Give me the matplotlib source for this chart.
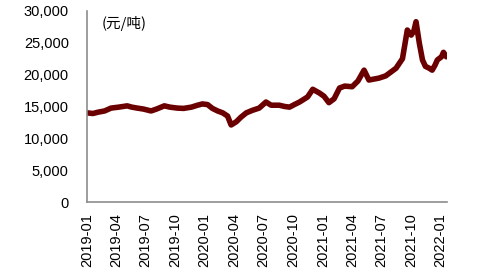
import matplotlib
matplotlib.use("Agg")
import matplotlib.pyplot as plt
import matplotlib.dates as mdates
import pandas as pd

# prix (元/吨)
dates = ["2019-01-02", "2019-01-20", "2019-02-04", "2019-02-25", "2019-03-17", "2019-04-10",
         "2019-05-06", "2019-05-20", "2019-06-06", "2019-06-25", "2019-07-19", "2019-08-05",
         "2019-08-29", "2019-09-15", "2019-10-08", "2019-10-28", "2019-11-21", "2019-12-10",
         "2019-12-25", "2020-01-10", "2020-01-25", "2020-02-10", "2020-02-26", "2020-03-12",
         "2020-03-23", "2020-04-08", "2020-04-22", "2020-05-09", "2020-05-28", "2020-06-18",
         "2020-07-09", "2020-07-25", "2020-08-19", "2020-09-05", "2020-09-20", "2020-10-05",
         "2020-10-21", "2020-11-15", "2020-12-01", "2020-12-22", "2021-01-05", "2021-01-20",
         "2021-02-05", "2021-02-22", "2021-03-10", "2021-04-02", "2021-04-20", "2021-05-09",
         "2021-05-24", "2021-06-24", "2021-07-15", "2021-08-16", "2021-09-05", "2021-09-20",
         "2021-10-02", "2021-10-10", "2021-10-17", "2021-10-27", "2021-11-06", "2021-11-15",
         "2021-11-27", "2021-12-06", "2021-12-15", "2021-12-22", "2022-01-04", "2022-01-10",
         "2022-01-19"]
prix = [14000, 13900, 14100, 14300, 14750, 14900,
        15100, 14900, 14750, 14600, 14300, 14600,
        15100, 14900, 14750, 14700, 14900, 15200,
        15400, 15300, 14700, 14300, 14000, 13500,
        12100, 12600, 13300, 14000, 14400, 14750,
        15700, 15200, 15200, 15000, 14900, 15300,
        15700, 16500, 17700, 17100, 16600, 15600,
        16200, 17900, 18200, 18100, 19000, 20700,
        19150, 19450, 19800, 21000, 22500, 27000,
        26200, 26800, 28300, 25000, 22300, 21300,
        21000, 20700, 21500, 22300, 22800, 23500,
        22800]

x = pd.to_datetime(dates)

fig = plt.figure(figsize=(4.88, 2.72), dpi=100)
ax = fig.add_axes([0.178, 0.257, 0.738, 0.703])

ax.plot(x, prix, color="#6B0000", linewidth=4, solid_joinstyle="round", solid_capstyle="round")

ax.set_ylim(0, 30000)
ax.set_yticks(range(0, 30001, 5000))
ax.set_yticklabels([f"{v:,}" for v in range(0, 30001, 5000)], family="Liberation Sans", fontsize=10.5)

ax.set_xlim(pd.Timestamp("2019-01-01"), pd.Timestamp("2022-01-21"))
ax.xaxis.set_major_locator(mdates.MonthLocator(bymonth=[1, 4, 7, 10]))
ax.xaxis.set_major_formatter(mdates.DateFormatter("%Y-%m"))
for lab in ax.get_xticklabels():
    lab.set_rotation(90)
    lab.set_family("Liberation Sans")
    lab.set_fontsize(10.5)

ax.tick_params(axis="y", length=0, pad=13)
ax.tick_params(axis="x", length=0, pad=8)

for s in ["top", "right"]:
    ax.spines[s].set_visible(False)
for s in ["left", "bottom"]:
    ax.spines[s].set_color("#8C8C8C")
    ax.spines[s].set_linewidth(1.2)

ax.text(0.04, 0.975, "(元/吨)", transform=ax.transAxes, ha="left", va="top",
        family=["Noto Sans CJK SC", "DejaVu Sans"], fontsize=10.5)

fig.savefig("out.png", dpi=100)
